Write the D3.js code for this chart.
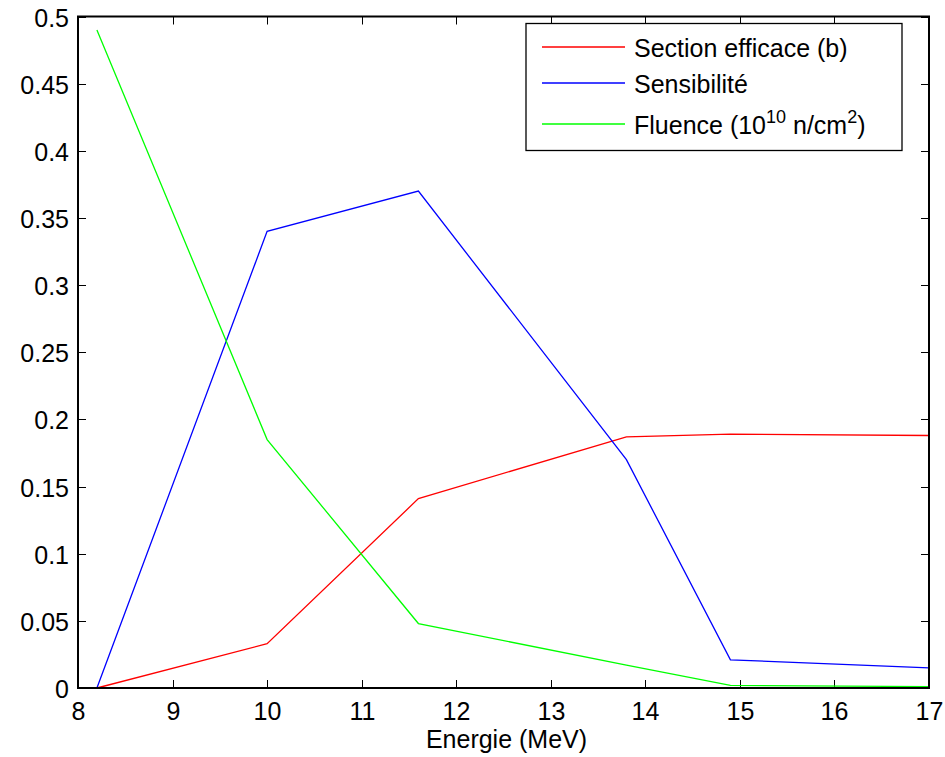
<!DOCTYPE html>
<html>
<head>
<meta charset="utf-8">
<script src="https://cdn.jsdelivr.net/npm/d3@7"></script>
<style>
 body{margin:0;background:#fff;}
 text{font-family:"Liberation Sans",Arial,sans-serif;}
</style>
</head>
<body>
<script>
// energies (MeV) and the three series
let energie=[8.2,10,11.6,13.8,14.9,17]
let section=[0,0.033,0.141,0.187,0.189,0.188]
let sensib=[0,0.34,0.37,0.17,0.021,0.015]
let fluence=[0.49,0.185,0.048,0.017,0.002,0.001]
let xTicks=[8,9,10,11,12,13,14,15,16,17]
let yTicks=[0,0.05,0.1,0.15,0.2,0.25,0.3,0.35,0.4,0.45,0.5]

let W=945,H=757
let pLeft=78,pRight=929,pTop=16.5,pBottom=688

var svg=d3.select('body').append('svg').attr('width',W).attr('height',H)

var x=d3.scaleLinear().domain([8,17]).range([pLeft,pRight])
var y=d3.scaleLinear().domain([0,0.5]).range([pBottom,pTop])

var fs='25px'

// ticks (inside, on all four sides)
var g=svg.append('g').attr('stroke','#000').attr('stroke-width',1)
xTicks.forEach(function(t){
  let px=Math.round(x(t))+0.5
  g.append('line').attr('x1',px).attr('x2',px).attr('y1',pBottom).attr('y2',pBottom-8)
  g.append('line').attr('x1',px).attr('x2',px).attr('y1',pTop).attr('y2',pTop+8)
  svg.append('text').attr('x',px).attr('y',720).attr('text-anchor','middle').style('font-size',fs).text(t)
})
yTicks.forEach(function(t){
  let py=Math.round(y(t))+0.5
  g.append('line').attr('x1',pLeft).attr('x2',pLeft+8).attr('y1',py).attr('y2',py)
  g.append('line').attr('x1',pRight).attr('x2',pRight-8).attr('y1',py).attr('y2',py)
  svg.append('text').attr('x',69).attr('y',py+9.5).attr('text-anchor','end').style('font-size',fs).text(t)
})

var line=d3.line()
  .x(function(d){return x(d[0])})
  .y(function(d){return y(d[1])})

var series=[
  {name:'section',vals:section,color:'#ff0000'},
  {name:'sensib',vals:sensib,color:'#0000ff'},
  {name:'fluence',vals:fluence,color:'#00ff00'}
]
series.forEach(function(s){
  svg.append('path').attr('d',line(d3.zip(energie,s.vals)))
    .attr('fill','none').attr('stroke',s.color).attr('stroke-width',1.3)
})

// axes box
svg.append('rect').attr('x',pLeft).attr('y',pTop).attr('width',pRight-pLeft).attr('height',pBottom-pTop)
  .attr('fill','none').attr('stroke','#000').attr('stroke-width',2)

svg.append('text').attr('x',(pLeft+pRight)/2+3).attr('y',748).attr('text-anchor','middle')
  .style('font-size',fs).text('Energie (MeV)')

// legend
var lg=svg.append('g')
lg.append('rect').attr('x',526).attr('y',23.5).attr('width',376).attr('height',127)
  .attr('fill','#fff').attr('stroke','#000').attr('stroke-width',1.3)
var rows=[47,83,124]
series.forEach(function(s,i){
  lg.append('line').attr('x1',542).attr('x2',625).attr('y1',rows[i]).attr('y2',rows[i])
    .attr('stroke',s.color).attr('stroke-width',1.5)
})
lg.append('text').attr('x',634).attr('y',rows[0]+10).style('font-size',fs).text('Section efficace (b)')
lg.append('text').attr('x',634).attr('y',rows[1]+10).style('font-size',fs).text('Sensibilité')
var t3=lg.append('text').attr('x',634).attr('y',rows[2]+10).style('font-size',fs)
t3.append('tspan').text('Fluence (10')
t3.append('tspan').attr('dy',-11).style('font-size','18px').text('10')
t3.append('tspan').attr('dy',11).text(' n/cm')
t3.append('tspan').attr('dy',-11).style('font-size','18px').text('2')
t3.append('tspan').attr('dy',11).text(')')
</script>
</body>
</html>
